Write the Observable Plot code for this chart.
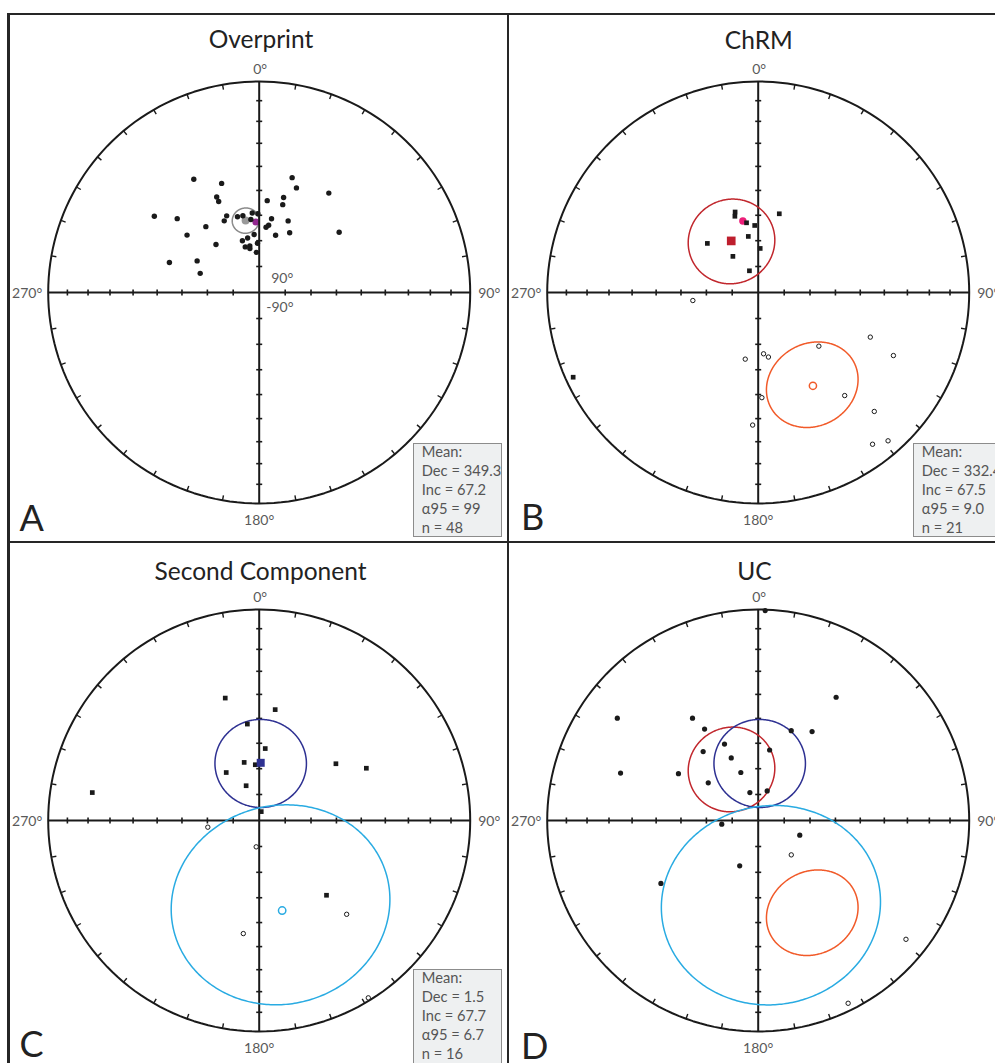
<!DOCTYPE html>
<html>
<head>
<meta charset="utf-8">
<script src="https://cdn.jsdelivr.net/npm/d3@7"></script>
<script src="https://cdn.jsdelivr.net/npm/@observablehq/plot@0.6"></script>
<style>
html,body{margin:0;padding:0;background:#fff;}
#wrap{position:relative;width:995px;height:1063px;overflow:hidden;font-family:Lato,sans-serif;}
#wrap svg{position:absolute;}
.rule{position:absolute;background:#262626;z-index:3;}
.meanbox{position:absolute;box-sizing:border-box;background:#eef0f1;border:1.5px solid #8c8c8c;color:#555;font-size:14.7px;line-height:19px;padding:0 0 0 7.5px;white-space:pre;z-index:2;}
.meanbox div{position:relative;top:-2px;}
</style>
</head>
<body>
<div id="wrap"></div>
<script>
// ---------- tick values ----------
const declTicks = [10,20,30,40,50,60,70,80,100,110,120,130,140,150,160,170,190,200,210,220,230,240,250,260,280,290,300,310,320,330,340,350];
const incTicks = [10,20,30,40,50,60,70,80];
const arms = [0,90,180,270];
const cardinalLabels = ["0°","90°","180°","270°"];

// ---------- Panel A: Overprint (declination / inclination) ----------
const overprintDec = [330,341,336,336,306,312,321,308.5,318,288.5,297,288,337,334,344,348,355,359,353.5,355,348,342,343,348.6,348,358,356,16,19.6,35,5,14.4,15,9.5,22,8,6,16,27,53];
const overprintInc = [38,44.5,49,51,38.5,46.6,57,54,65,53,63,66,57.6,59,59.4,59.5,59,59.4,61.5,67.5,68.5,69,71.6,71.7,72.7,71,74.5,42.8,46.3,42,54,51.6,54.5,61,60,63.7,64.6,67,64,50.8];
const overprintMean = {dec: 349.3, inc: 61.6, a95: 5};
const overprintOther = {dec: 357.3, inc: 62.6};
const overprintStats = ["Mean:","Dec = 349.3","Inc = 67.2","α95 = 99","n = 48"];

// ---------- Panel B: ChRM ----------
const chrmDecDown = [344,343,350.5,357,15,350,314,2.6,325,338,245.4];
const chrmIncDown = [57.4,59,62.6,64,58.3,68,62.6,73,73,81,4];
const chrmDecUp = [263,191,175,171,178,182.4,131.5,111.7,115,140,135.7,143,138.8];
const chrmIncUp = [-64.5,-63.7,-66.2,-64.7,-48.7,-37.2,-58.5,-42.3,-30,-36.4,-22.3,-10.9,-7.3];
const chrmMeanDown = {dec: 332.4, inc: 67.5, a95: 16.5};
const chrmMeanUp = {dec: 149.6, inc: -47.5, a95: 17};
const chrmOther = {dec: 347.9, inc: 61.6};
const chrmStats = ["Mean:","Dec = 332.4","Inc = 67.5","α95 = 9.0","n = 21"];

// ---------- Panel C: Second Component ----------
const secondDecDown = [344.5,8.2,353,4.8,345.5,356,325.5,339.4,53.5,64,279.5,13,138];
const secondIncDown = [39.6,45.9,52,62,66.8,68.4,67.5,75.7,52.7,42.9,20.9,86.5,50.6];
const secondDecUp = [262.6,186.5,188,137,148.4];
const secondIncUp = [-70,-79.8,-45,-39.1,-1.5];
const secondMeanDown = {dec: 1.5, inc: 67.7, a95: 17.3};
const secondMeanUp = {dec: 165.7, inc: -53.7, a95: 41};
const secondStats = ["Mean:","Dec = 1.5","Inc = 67.7","α95 = 6.7","n = 16"];

// ---------- Panel D: UC ----------
const ucDecDown = [1.9,32.3,306,327.3,329.6,20.2,31.2,336.2,321.4,9.2,336.7,289,300.4,340.1,307,343.4,16.9,264.2,109.5,202.2,237.1];
const ucIncDown = [0.5,31.5,18.6,41.9,48.4,52.6,49.2,57.5,55.6,62.3,63.6,31.6,53.9,70.3,65.8,78.8,78.1,75.9,73,71.1,44.3];
const ucDecUp = [136.1,128.8,153.8];
const ucIncUp = [-71.6,-11.1,-3.9];
const ucConeSecondUp = {dec: 171.4, inc: -54.3, a95: 41};

// ---------- helpers ----------
const R = 211;
const ink = "#1a1a1a", labelGray = "#5a5a5a";
const cRed = "#c1272d", cPink = "#ec1e79", cOrange = "#f15a29", cNavy = "#2e3192", cSky = "#29abe2";
const pts = (decs, incs) => decs.map((dec, i) => ({dec, inc: incs[i]}));
const lat = d => -Math.abs(d.inc);
const hDash = {draw(c){ c.moveTo(-3,0); c.lineTo(3,0); }};
const vDash = {draw(c){ c.moveTo(0,-3); c.lineTo(0,3); }};
function cone(m){
  const g = d3.geoCircle().center([m.dec, -Math.abs(m.inc)]).radius(m.a95).precision(1)();
  return {type: "LineString", coordinates: g.coordinates[0]};
}
const coneMark = (m, color) => Plot.geo([m], {geometry: cone, stroke: color, strokeWidth: 1.5, fill: "none"});

function stereonet(cfg){
  const projection = d3.geoAzimuthalEqualArea().rotate([0, 90]).scale(R / Math.SQRT2)
    .translate([cfg.cx, cfg.cy]).clipAngle(90).precision(0.1);
  const axisTicks = arms.flatMap(dir => incTicks.map(inc => ({dir, inc})));
  const txt = {fill: labelGray, fontSize: 14, lineAnchor: "bottom"};
  const marks = [
    ...(cfg.under || []),
    Plot.sphere({stroke: ink, strokeWidth: 2}),
    Plot.link(arms, {x1: d => d, y1: () => -0.01, x2: d => d, y2: () => -90, stroke: ink, strokeWidth: 2}),
    Plot.link(declTicks, {x1: d => d, y1: () => -0.01, x2: d => d, y2: () => -2.7, stroke: ink, strokeWidth: 1.4}),
    Plot.dot(axisTicks.filter(d => d.dir % 180 === 0), {x: "dir", y: d => -d.inc, symbol: hDash, fill: "none", stroke: ink, strokeWidth: 1.6}),
    Plot.dot(axisTicks.filter(d => d.dir % 180 !== 0), {x: "dir", y: d => -d.inc, symbol: vDash, fill: "none", stroke: ink, strokeWidth: 1.6}),
    Plot.text([cardinalLabels[0]], {x: () => 0, y: () => -0.001, dy: -7.5, dx: 1, ...txt}),
    Plot.text([cardinalLabels[1]], {x: () => 90, y: () => -0.001, dx: 8, dy: 5.5, textAnchor: "start", ...txt}),
    Plot.text([cardinalLabels[2]], {x: () => 180, y: () => -0.001, dy: 22, ...txt}),
    Plot.text([cardinalLabels[3]], {x: () => 270, y: () => -0.001, dx: -6, dy: 5.5, textAnchor: "end", ...txt}),
    ...(cfg.marks || []),
    Plot.text([cfg.title], {frameAnchor: "top-left", dx: cfg.titleX, dy: cfg.titleY, textAnchor: "middle", lineAnchor: "bottom", fontSize: 24.5, fill: "#222"}),
    Plot.text([cfg.letter], {frameAnchor: "top-left", dx: cfg.letterX, dy: cfg.letterY, textAnchor: "start", lineAnchor: "bottom", fontSize: 36, fill: "#222"})
  ];
  const svg = Plot.plot({
    width: cfg.width, height: cfg.height, margin: 0, projection,
    style: {fontFamily: "Lato, sans-serif", background: "transparent", overflow: "visible"},
    marks
  });
  svg.style.left = cfg.left + "px";
  svg.style.top = cfg.top + "px";
  return svg;
}

const downDots = (data, r) => Plot.dot(data, {x: "dec", y: lat, r, fill: ink, stroke: "none"});
const downSquares = (data) => Plot.dot(data, {x: "dec", y: lat, symbol: "square", r: 2.65, fill: ink, stroke: "none"});
const upCircles = (data) => Plot.dot(data, {x: "dec", y: lat, r: 2.2, fill: "white", stroke: ink, strokeWidth: 1});

const wrap = document.getElementById("wrap");

// Panel A
wrap.appendChild(stereonet({
  left: 0, top: 0, width: 508, height: 541, cx: 258.7, cy: 292,
  title: "Overprint", titleX: 260.5, titleY: 47.5, letter: "A", letterX: 19, letterY: 530.5,
  under: [
    coneMark(overprintMean, "#8a8a8a"),
    Plot.dot([overprintMean], {x: "dec", y: lat, r: 4, fill: "#9a9a9a"}),
    Plot.dot([overprintOther], {x: "dec", y: lat, r: 3.5, fill: "#92278f"})
  ],
  marks: [
    downDots(pts(overprintDec, overprintInc), 2.7),
    Plot.text(["90°"], {x: () => 0, y: () => -90, dx: 12, dy: -9.3, textAnchor: "start", lineAnchor: "bottom", fill: labelGray, fontSize: 14}),
    Plot.text(["-90°"], {x: () => 0, y: () => -90, dx: 7, dy: 19.7, textAnchor: "start", lineAnchor: "bottom", fill: labelGray, fontSize: 14})
  ]
}));

// Panel B
wrap.appendChild(stereonet({
  left: 508, top: 0, width: 500, height: 541, cx: 249.7, cy: 292,
  title: "ChRM", titleX: 250.3, titleY: 48, letter: "B", letterX: 12.5, letterY: 529.3,
  marks: [
    coneMark(chrmMeanDown, cRed),
    coneMark(chrmMeanUp, cOrange),
    Plot.dot([chrmOther], {x: "dec", y: lat, r: 3.7, fill: cPink}),
    downSquares(pts(chrmDecDown, chrmIncDown)),
    upCircles(pts(chrmDecUp, chrmIncUp)),
    Plot.dot([chrmMeanDown], {x: "dec", y: lat, symbol: "square", r: 4.9, fill: "#be1e2d"}),
    Plot.dot([chrmMeanUp], {x: "dec", y: lat, r: 3.6, fill: "white", stroke: cOrange, strokeWidth: 1.5})
  ]
}));

// Panel C
wrap.appendChild(stereonet({
  left: 0, top: 541, width: 508, height: 530, cx: 258.7, cy: 279,
  title: "Second Component", titleX: 260, titleY: 38.3, letter: "C", letterX: 19, letterY: 515.5,
  marks: [
    coneMark(secondMeanDown, cNavy),
    coneMark(secondMeanUp, cSky),
    downSquares(pts(secondDecDown, secondIncDown)),
    upCircles(pts(secondDecUp, secondIncUp)),
    Plot.dot([secondMeanDown], {x: "dec", y: lat, symbol: "square", r: 4.5, fill: cNavy}),
    Plot.dot([secondMeanUp], {x: "dec", y: lat, r: 3.7, fill: "white", stroke: cSky, strokeWidth: 1.5})
  ]
}));

// Panel D
wrap.appendChild(stereonet({
  left: 508, top: 541, width: 500, height: 530, cx: 249.7, cy: 279,
  title: "UC", titleX: 246, titleY: 38.3, letter: "D", letterX: 12.5, letterY: 517,
  marks: [
    coneMark(chrmMeanDown, cRed),
    coneMark(secondMeanDown, cNavy),
    coneMark(ucConeSecondUp, cSky),
    coneMark(chrmMeanUp, cOrange),
    downDots(pts(ucDecDown, ucIncDown), 2.6),
    upCircles(pts(ucDecUp, ucIncUp))
  ]
}));

// panel frame rules
[
  {left: 7, top: 12.7, width: 1000, height: 2.6},
  {left: 7.3, top: 12.7, width: 2.5, height: 1060},
  {left: 506.5, top: 12.7, width: 2.6, height: 1060},
  {left: 7, top: 540.8, width: 1000, height: 2.7}
].forEach(r => {
  const d = document.createElement("div");
  d.className = "rule";
  Object.assign(d.style, {left: r.left + "px", top: r.top + "px", width: r.width + "px", height: r.height + "px"});
  wrap.appendChild(d);
});

// mean boxes
[
  {left: 413.3, top: 443.3, width: 89, height: 93.4, lines: overprintStats},
  {left: 913.3, top: 443.3, width: 100, height: 93.4, lines: chrmStats},
  {left: 413.3, top: 969, width: 89, height: 110, lines: secondStats}
].forEach(b => {
  const d = document.createElement("div");
  d.className = "meanbox";
  Object.assign(d.style, {left: b.left + "px", top: b.top + "px", width: b.width + "px", height: b.height + "px"});
  const inner = document.createElement("div");
  inner.textContent = b.lines.join("\n");
  d.appendChild(inner);
  wrap.appendChild(d);
});
</script>
</body>
</html>
